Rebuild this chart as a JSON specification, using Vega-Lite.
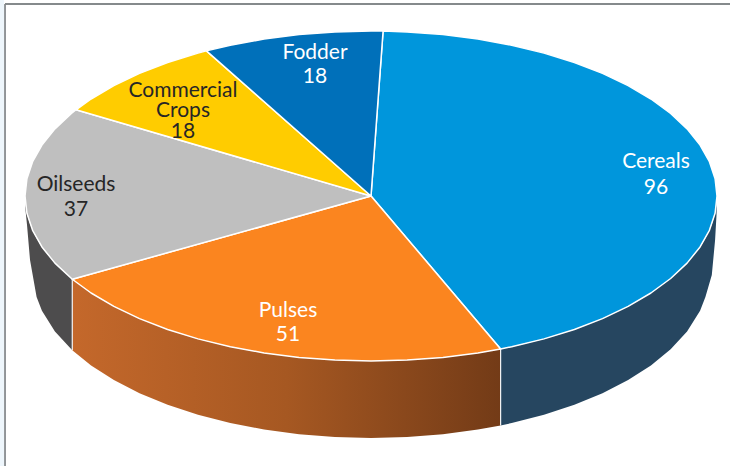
{
"$schema":"https://vega.github.io/schema/vega-lite/v6.json",
"width":730,"height":466,"padding":0,"autosize":{"type":"none"},
"background":"#ffffff","view":{"stroke":null},
"datasets":{
"wall":[
{"w":"Cereals","x":0.3746,"y":-0.9272,"y2":-1.3903},{"w":"Cereals","x":0.4067,"y":-0.9135,"y2":-1.3759},{"w":"Cereals","x":0.5,"y":-0.866,"y2":-1.3258},{"w":"Cereals","x":0.5878,"y":-0.809,"y2":-1.2654},{"w":"Cereals","x":0.6691,"y":-0.7431,"y2":-1.1953},{"w":"Cereals","x":0.7431,"y":-0.6691,"y2":-1.1158},{"w":"Cereals","x":0.809,"y":-0.5878,"y2":-1.0272},{"w":"Cereals","x":0.866,"y":-0.5,"y2":-0.9294},{"w":"Cereals","x":0.9135,"y":-0.4067,"y2":-0.821},{"w":"Cereals","x":0.9511,"y":-0.309,"y2":-0.6949},{"w":"Cereals","x":0.9665,"y":-0.2566,"y2":-0.612},{"w":"Cereals","x":0.985,"y":-0.1725,"y2":-0.479},{"w":"Cereals","x":0.9945,"y":-0.1045,"y2":-0.267},{"w":"Cereals","x":0.9986,"y":-0.0523,"y2":-0.115},{"w":"Cereals","x":1,"y":0,"y2":0},
{"w":"Pulses","x":0.3746,"y":-0.9272,"y2":-1.3903},{"w":"Pulses","x":0.309,"y":-0.9511,"y2":-1.4154},{"w":"Pulses","x":0.2079,"y":-0.9781,"y2":-1.4438},{"w":"Pulses","x":0.1045,"y":-0.9945,"y2":-1.461},{"w":"Pulses","x":0,"y":-1,"y2":-1.4667},{"w":"Pulses","x":-0.1045,"y":-0.9945,"y2":-1.461},{"w":"Pulses","x":-0.2079,"y":-0.9781,"y2":-1.4438},{"w":"Pulses","x":-0.309,"y":-0.9511,"y2":-1.4154},{"w":"Pulses","x":-0.4067,"y":-0.9135,"y2":-1.3759},{"w":"Pulses","x":-0.5,"y":-0.866,"y2":-1.3258},{"w":"Pulses","x":-0.5878,"y":-0.809,"y2":-1.2654},{"w":"Pulses","x":-0.6691,"y":-0.7431,"y2":-1.1953},{"w":"Pulses","x":-0.7431,"y":-0.6691,"y2":-1.1158},{"w":"Pulses","x":-0.809,"y":-0.5878,"y2":-1.0272},{"w":"Pulses","x":-0.8634,"y":-0.5045,"y2":-0.9345},
{"w":"Oilseeds","x":-0.8634,"y":-0.5045,"y2":-0.9345},{"w":"Oilseeds","x":-0.9135,"y":-0.4067,"y2":-0.821},{"w":"Oilseeds","x":-0.9511,"y":-0.309,"y2":-0.6949},{"w":"Oilseeds","x":-0.9665,"y":-0.2566,"y2":-0.612},{"w":"Oilseeds","x":-0.9855,"y":-0.1696,"y2":-0.388},{"w":"Oilseeds","x":-0.9942,"y":-0.1075,"y2":-0.176},{"w":"Oilseeds","x":-0.9986,"y":-0.0523,"y2":-0.085},{"w":"Oilseeds","x":-1,"y":0,"y2":0}
],
"edge":[{"x":0.3746,"y":-0.9272,"y2":-1.3903},{"x":-0.8634,"y":-0.5045,"y2":-0.9345}],
"top":[
{"s":"Cereals","i":0,"x":0,"y":0},{"s":"Cereals","i":1,"x":0.0349,"y":0.9994},{"s":"Cereals","i":2,"x":0.1045,"y":0.9945},{"s":"Cereals","i":3,"x":0.2079,"y":0.9781},{"s":"Cereals","i":4,"x":0.309,"y":0.9511},{"s":"Cereals","i":5,"x":0.4067,"y":0.9135},{"s":"Cereals","i":6,"x":0.5,"y":0.866},{"s":"Cereals","i":7,"x":0.5878,"y":0.809},{"s":"Cereals","i":8,"x":0.6691,"y":0.7431},{"s":"Cereals","i":9,"x":0.7431,"y":0.6691},{"s":"Cereals","i":10,"x":0.809,"y":0.5878},{"s":"Cereals","i":11,"x":0.866,"y":0.5},{"s":"Cereals","i":12,"x":0.9135,"y":0.4067},{"s":"Cereals","i":13,"x":0.9511,"y":0.309},{"s":"Cereals","i":14,"x":0.9781,"y":0.2079},{"s":"Cereals","i":15,"x":0.9945,"y":0.1045},{"s":"Cereals","i":16,"x":1,"y":0},{"s":"Cereals","i":17,"x":0.9945,"y":-0.1045},{"s":"Cereals","i":18,"x":0.9781,"y":-0.2079},{"s":"Cereals","i":19,"x":0.9511,"y":-0.309},{"s":"Cereals","i":20,"x":0.9135,"y":-0.4067},{"s":"Cereals","i":21,"x":0.866,"y":-0.5},{"s":"Cereals","i":22,"x":0.809,"y":-0.5878},{"s":"Cereals","i":23,"x":0.7431,"y":-0.6691},{"s":"Cereals","i":24,"x":0.6691,"y":-0.7431},{"s":"Cereals","i":25,"x":0.5878,"y":-0.809},{"s":"Cereals","i":26,"x":0.5,"y":-0.866},{"s":"Cereals","i":27,"x":0.4067,"y":-0.9135},{"s":"Cereals","i":28,"x":0.3746,"y":-0.9272},{"s":"Cereals","i":29,"x":0,"y":0},
{"s":"Pulses","i":0,"x":0,"y":0},{"s":"Pulses","i":1,"x":0.3746,"y":-0.9272},{"s":"Pulses","i":2,"x":0.309,"y":-0.9511},{"s":"Pulses","i":3,"x":0.2079,"y":-0.9781},{"s":"Pulses","i":4,"x":0.1045,"y":-0.9945},{"s":"Pulses","i":5,"x":0,"y":-1},{"s":"Pulses","i":6,"x":-0.1045,"y":-0.9945},{"s":"Pulses","i":7,"x":-0.2079,"y":-0.9781},{"s":"Pulses","i":8,"x":-0.309,"y":-0.9511},{"s":"Pulses","i":9,"x":-0.4067,"y":-0.9135},{"s":"Pulses","i":10,"x":-0.5,"y":-0.866},{"s":"Pulses","i":11,"x":-0.5878,"y":-0.809},{"s":"Pulses","i":12,"x":-0.6691,"y":-0.7431},{"s":"Pulses","i":13,"x":-0.7431,"y":-0.6691},{"s":"Pulses","i":14,"x":-0.809,"y":-0.5878},{"s":"Pulses","i":15,"x":-0.8634,"y":-0.5045},{"s":"Pulses","i":16,"x":0,"y":0},
{"s":"Oilseeds","i":0,"x":0,"y":0},{"s":"Oilseeds","i":1,"x":-0.8634,"y":-0.5045},{"s":"Oilseeds","i":2,"x":-0.9135,"y":-0.4067},{"s":"Oilseeds","i":3,"x":-0.9511,"y":-0.309},{"s":"Oilseeds","i":4,"x":-0.9781,"y":-0.2079},{"s":"Oilseeds","i":5,"x":-0.9945,"y":-0.1045},{"s":"Oilseeds","i":6,"x":-1,"y":0},{"s":"Oilseeds","i":7,"x":-0.9945,"y":0.1045},{"s":"Oilseeds","i":8,"x":-0.9781,"y":0.2079},{"s":"Oilseeds","i":9,"x":-0.9511,"y":0.309},{"s":"Oilseeds","i":10,"x":-0.9135,"y":0.4067},{"s":"Oilseeds","i":11,"x":-0.866,"y":0.5},{"s":"Oilseeds","i":12,"x":-0.8526,"y":0.5225},{"s":"Oilseeds","i":13,"x":0,"y":0},
{"s":"Commercial Crops","i":0,"x":0,"y":0},{"s":"Commercial Crops","i":1,"x":-0.8526,"y":0.5225},{"s":"Commercial Crops","i":2,"x":-0.809,"y":0.5878},{"s":"Commercial Crops","i":3,"x":-0.7431,"y":0.6691},{"s":"Commercial Crops","i":4,"x":-0.6691,"y":0.7431},{"s":"Commercial Crops","i":5,"x":-0.5878,"y":0.809},{"s":"Commercial Crops","i":6,"x":-0.5,"y":0.866},{"s":"Commercial Crops","i":7,"x":-0.4756,"y":0.8796},{"s":"Commercial Crops","i":8,"x":0,"y":0},
{"s":"Fodder","i":0,"x":0,"y":0},{"s":"Fodder","i":1,"x":-0.4756,"y":0.8796},{"s":"Fodder","i":2,"x":-0.4067,"y":0.9135},{"s":"Fodder","i":3,"x":-0.309,"y":0.9511},{"s":"Fodder","i":4,"x":-0.2079,"y":0.9781},{"s":"Fodder","i":5,"x":-0.1045,"y":0.9945},{"s":"Fodder","i":6,"x":0,"y":1},{"s":"Fodder","i":7,"x":0.0349,"y":0.9994},{"s":"Fodder","i":8,"x":0,"y":0}
],
"labels":[
{"s":"Cereals","t":"Cereals","x":0.8237,"y":0.2061},{"s":"Cereals","t":"96","x":0.8237,"y":0.0485},
{"s":"Fodder","t":"Fodder","x":-0.1618,"y":0.8667},{"s":"Fodder","t":"18","x":-0.1618,"y":0.7212},
{"s":"Commercial Crops","t":"Commercial","x":-0.5434,"y":0.6364},{"s":"Commercial Crops","t":"Crops","x":-0.5434,"y":0.5152},{"s":"Commercial Crops","t":"18","x":-0.5434,"y":0.3879},
{"s":"Pulses","t":"Pulses","x":-0.2399,"y":-0.6969},{"s":"Pulses","t":"51","x":-0.2399,"y":-0.8424},
{"s":"Oilseeds","t":"Oilseeds","x":-0.8526,"y":0.0667},{"s":"Oilseeds","t":"37","x":-0.8526,"y":-0.0848}
]
},
"layer":[
{"data":{"name":"wall"},"transform":[{"filter":"datum.w==='Cereals'"}],"mark":{"type":"area","fill":"#264660","clip":true},"encoding":{"x":{"field":"x","type":"quantitative","scale":{"domain":[-1.0723,1.0376],"nice":false,"zero":false},"axis":null},"y":{"field":"y","type":"quantitative","scale":{"domain":[-1.6364,1.1879],"nice":false,"zero":false},"axis":null},"y2":{"field":"y2"}}},
{"data":{"name":"wall"},"transform":[{"filter":"datum.w==='Oilseeds'"}],"mark":{"type":"area","fill":"#4d4c4d","clip":true},"encoding":{"x":{"field":"x","type":"quantitative"},"y":{"field":"y","type":"quantitative"},"y2":{"field":"y2"}}},
{"data":{"name":"wall"},"transform":[{"filter":"datum.w==='Pulses'"}],"mark":{"type":"area","clip":true,"fill":{"gradient":"linear","x1":0,"y1":0,"x2":1,"y2":0,"stops":[{"offset":0,"color":"#c4682b"},{"offset":0.5,"color":"#a65822"},{"offset":1,"color":"#733b17"}]}},"encoding":{"x":{"field":"x","type":"quantitative"},"y":{"field":"y","type":"quantitative"},"y2":{"field":"y2"}}},
{"data":{"name":"edge"},"mark":{"type":"rule","stroke":"#f2f2f2","strokeWidth":1.2},"encoding":{"x":{"field":"x","type":"quantitative"},"y":{"field":"y","type":"quantitative"},"y2":{"field":"y2"}}},
{"data":{"name":"top"},"mark":{"type":"line","stroke":"#ffffff","strokeWidth":1.5,"strokeJoin":"round"},
 "encoding":{"x":{"field":"x","type":"quantitative"},"y":{"field":"y","type":"quantitative"},"order":{"field":"i","type":"quantitative"},"detail":{"field":"s"},
 "fill":{"field":"s","type":"nominal","legend":null,"scale":{"domain":["Cereals","Pulses","Oilseeds","Commercial Crops","Fodder"],"range":["#0096DC","#FB851F","#BFBFBF","#FFCC00","#0070BA"]}}}},
{"data":{"name":"labels"},"mark":{"type":"text","font":"Lato","fontSize":21,"baseline":"middle","align":"center"},
 "encoding":{"x":{"field":"x","type":"quantitative"},"y":{"field":"y","type":"quantitative"},"text":{"field":"t"},"color":{"field":"s","type":"nominal","legend":null,"scale":{"domain":["Cereals","Pulses","Oilseeds","Commercial Crops","Fodder"],"range":["#ffffff","#ffffff","#262626","#262626","#ffffff"]}}}},
{"data":{"values":[{}]},"mark":{"type":"rule","stroke":"#eef6fc","strokeWidth":8,"clip":true},"encoding":{"x":{"datum":-1.0723},"y":{"datum":-1.6364},"y2":{"datum":1.1879}}},
{"data":{"values":[{}]},"mark":{"type":"rule","stroke":"#6f7479","strokeWidth":1.5},"encoding":{"x":{"datum":-1.0578},"y":{"datum":-1.6364},"y2":{"datum":1.1636}}},
{"data":{"values":[{}]},"mark":{"type":"rule","stroke":"#858a8c","strokeWidth":2},"encoding":{"y":{"datum":1.1636},"x":{"datum":-1.0578},"x2":{"datum":1.0376}}}
]
}
